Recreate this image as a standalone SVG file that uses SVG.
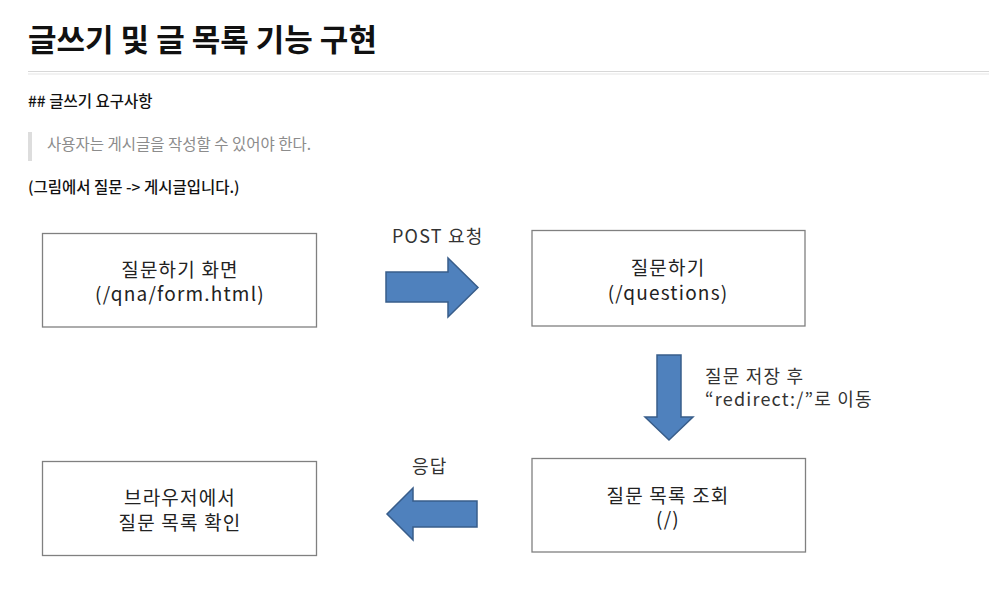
<svg xmlns="http://www.w3.org/2000/svg" width="989" height="595" viewBox="0 0 989 595">
<style>
.k{font-family:"Noto Sans CJK KR","Noto Sans",sans-serif}
.box rect{fill:#fff;stroke:#808080;stroke-width:1.3}
.box text{font-family:"Noto Sans CJK KR","Noto Sans",sans-serif;font-size:19px;fill:#222;text-anchor:middle;letter-spacing:1.2px}
.lbl{font-family:"Noto Sans CJK KR","Noto Sans",sans-serif;font-size:18px;fill:#333;letter-spacing:1.2px}
.arr{fill:#4f81bd;stroke:#385d8a;stroke-width:1.5;stroke-linejoin:miter}
</style>
<rect width="989" height="595" fill="#fff"/>
<text class="k" x="28" y="51" font-size="31" font-weight="700" fill="#111">글쓰기 및 글 목록 기능 구현</text>
<rect x="28" y="71" width="961" height="1" fill="#d8d8d8"/>
<rect x="28" y="73.5" width="961" height="1" fill="#e6e6e6"/>
<text class="k" x="28" y="107" font-size="15.5" font-weight="500" fill="#111">## 글쓰기 요구사항</text>
<rect x="28" y="132" width="4" height="29" fill="#dddddd"/>
<text class="k" x="47" y="150" font-size="15.5" fill="#8c8c8c">사용자는 게시글을 작성할 수 있어야 한다.</text>
<text class="k" x="28" y="193" font-size="15.5" font-weight="500" fill="#111">(그림에서 질문 -&gt; 게시글입니다.)</text>

<g id="form" class="box">
<rect x="42.5" y="233.5" width="274" height="93.5"/>
<text x="180" y="277">질문하기 화면</text>
<text x="180" y="301">(/qna/form.html)</text>
</g>
<g id="questions" class="box">
<rect x="532" y="230.5" width="273" height="95.5"/>
<text x="668" y="275">질문하기</text>
<text x="668" y="300">(/questions)</text>
</g>
<g id="list" class="box">
<rect x="532" y="458.5" width="273.5" height="93.5"/>
<text x="668" y="503">질문 목록 조회</text>
<text x="668" y="526">(/)</text>
</g>
<g id="browser" class="box">
<rect x="42.5" y="461.5" width="274" height="94"/>
<text x="180" y="505">브라우저에서</text>
<text x="180" y="530">질문 목록 확인</text>
</g>

<g id="connectors">
<polygon class="arr" points="386,272 448,272 448,258 478,287.5 448,317 448,302 386,302"/>
<text class="lbl" x="392" y="243" letter-spacing="0">POST 요청</text>
<polygon class="arr" points="657,355 681,355 681,417 693,417 669,440 645,417 657,417"/>
<text class="lbl" x="705" y="383">질문 저장 후</text>
<text class="lbl" x="705" y="406">“redirect:/”로 이동</text>
<polygon class="arr" points="477,501 413,501 413,488 387,514 413,540 413,527 477,527"/>
<text class="lbl" x="412" y="473">응답</text>
</g>
</svg>
